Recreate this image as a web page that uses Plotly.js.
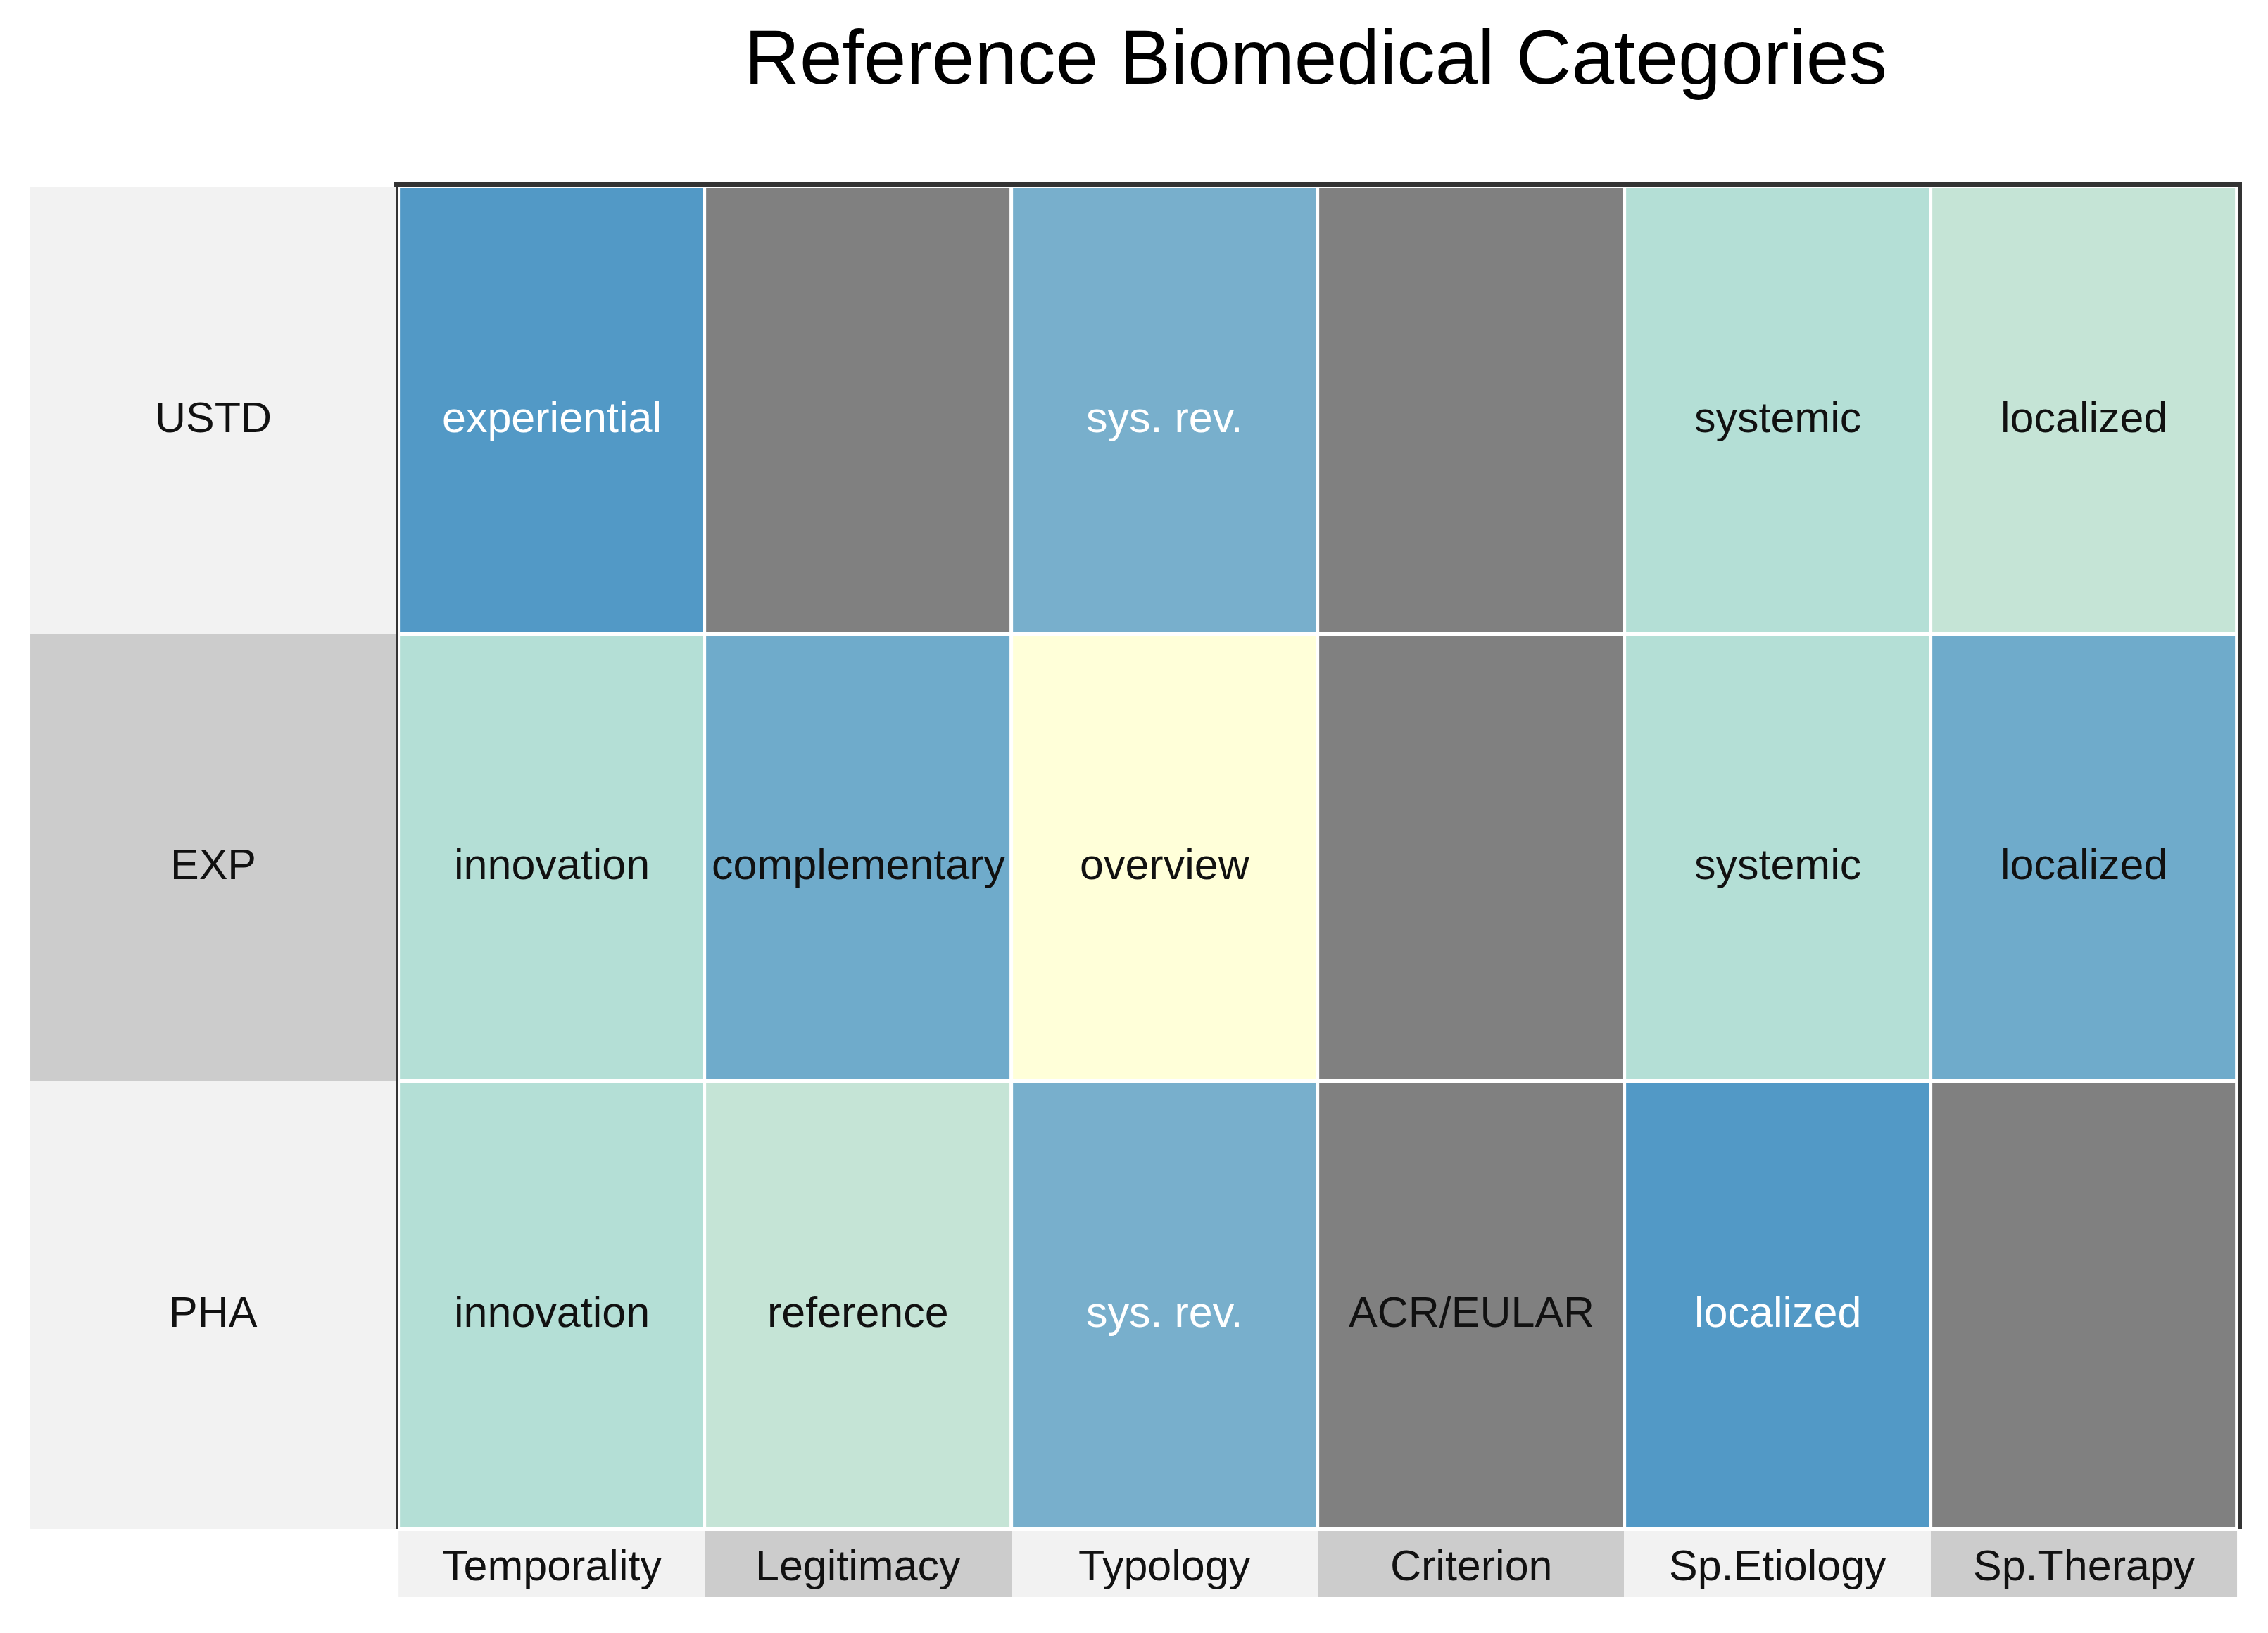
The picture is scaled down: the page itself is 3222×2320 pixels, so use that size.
<!DOCTYPE html>
<html>
<head>
<meta charset="utf-8">
<script src="https://cdn.plot.ly/plotly-3.0.1.min.js"></script>
<style>html,body{margin:0;padding:0;background:#fff;}#chart{width:3222px;height:2320px;}</style>
</head>
<body>
<div id="chart"></div>
<script>
// ---- data ----
const rows = ['USTD', 'EXP', 'PHA'];
const columns = ['Temporality', 'Legitimacy', 'Typology', 'Criterion', 'Sp.Etiology', 'Sp.Therapy'];
// category level per cell (0 = not applicable / grey)
const levelUSTD = [6, 0, 5, 0, 3, 2];
const levelEXP  = [3, 4, 1, 0, 3, 4];
const levelPHA  = [3, 2, 5, 0, 6, 0];
const textUSTD = ['experiential', '', 'sys. rev.', '', 'systemic', 'localized'];
const textEXP  = ['innovation', 'complementary', 'overview', '', 'systemic', 'localized'];
const textPHA  = ['innovation', 'reference', 'sys. rev.', 'ACR/EULAR', 'localized', ''];

// ---- styling tables ----
const levelColors = ['#808080', '#ffffd9', '#c5e4d6', '#b4dfd6', '#6fabcb', '#78afcc', '#5299c6'];
const levelInk    = ['#111111', '#111111', '#111111', '#111111', '#111111', '#ffffff', '#ffffff'];
const bandColors  = ['#f2f2f2', '#cccccc'];

const levels = [levelUSTD, levelEXP, levelPHA];
const texts = [textUSTD, textEXP, textPHA];
const nLev = levelColors.length - 1;
const colorscale = levelColors.map((c, i) => [i / nLev, c]);

const FONT = 'Liberation Sans, Arial, sans-serif';

const traces = [
  {
    type: 'heatmap', x: columns, y: rows, z: levels,
    zmin: 0, zmax: nLev, colorscale: colorscale, showscale: false,
    xgap: 5, ygap: 5, hoverinfo: 'skip', xaxis: 'x', yaxis: 'y'
  },
  {
    type: 'heatmap', x: ['band'], y: rows, z: rows.map((r, i) => [i % 2]),
    zmin: 0, zmax: 1, colorscale: [[0, bandColors[0]], [1, bandColors[1]]], showscale: false,
    hoverinfo: 'skip', xaxis: 'x2', yaxis: 'y'
  },
  {
    type: 'heatmap', x: columns, y: ['band'], z: [columns.map((c, i) => i % 2)],
    zmin: 0, zmax: 1, colorscale: [[0, bandColors[0]], [1, bandColors[1]]], showscale: false,
    hoverinfo: 'skip', xaxis: 'x', yaxis: 'y3'
  }
];

const annotations = [];
rows.forEach((r, i) => {
  columns.forEach((c, j) => {
    if (texts[i][j]) {
      annotations.push({
        x: c, y: r, xref: 'x', yref: 'y', text: texts[i][j], showarrow: false,
        font: {family: FONT, size: 61, color: levelInk[levels[i][j]]}, yshift: -10
      });
    }
  });
  annotations.push({
    x: 'band', y: r, xref: 'x2', yref: 'y', text: r, showarrow: false,
    font: {family: FONT, size: 61, color: '#111111'}, yshift: -10
  });
});
columns.forEach(c => {
  annotations.push({
    x: c, y: 'band', xref: 'x', yref: 'y3', text: c, showarrow: false,
    font: {family: FONT, size: 61, color: '#111111'}, yshift: -2
  });
});

const layout = {
  width: 3222, height: 2320,
  margin: {l: 0, r: 0, t: 0, b: 0},
  paper_bgcolor: '#ffffff', plot_bgcolor: '#ffffff',
  showlegend: false,
  title: {
    text: 'Reference Biomedical Categories',
    font: {family: FONT, size: 109, color: '#000000'},
    x: 0.5801, xanchor: 'center', y: 0.965, yanchor: 'middle'
  },
  xaxis: {
    domain: [0.1757, 0.9865], anchor: 'y', type: 'category', side: 'top',
    showticklabels: false, ticks: '', showgrid: false, zeroline: false,
    showline: true, mirror: false, linecolor: '#333333', linewidth: 6
  },
  yaxis: {
    domain: [0.0638, 0.8858], anchor: 'x', type: 'category', autorange: 'reversed',
    showticklabels: false, ticks: '', showgrid: false, zeroline: false,
    showline: true, mirror: true, linecolor: '#333333', linewidth: 6
  },
  xaxis2: {
    domain: [0.01335, 0.1748], anchor: 'y', type: 'category',
    showticklabels: false, ticks: '', showgrid: false, zeroline: false, showline: false
  },
  yaxis3: {
    domain: [0.022, 0.0625], anchor: 'x', type: 'category',
    showticklabels: false, ticks: '', showgrid: false, zeroline: false, showline: false
  },
  annotations: annotations
};

Plotly.newPlot('chart', traces, layout, {staticPlot: true, displayModeBar: false});
</script>
</body>
</html>
